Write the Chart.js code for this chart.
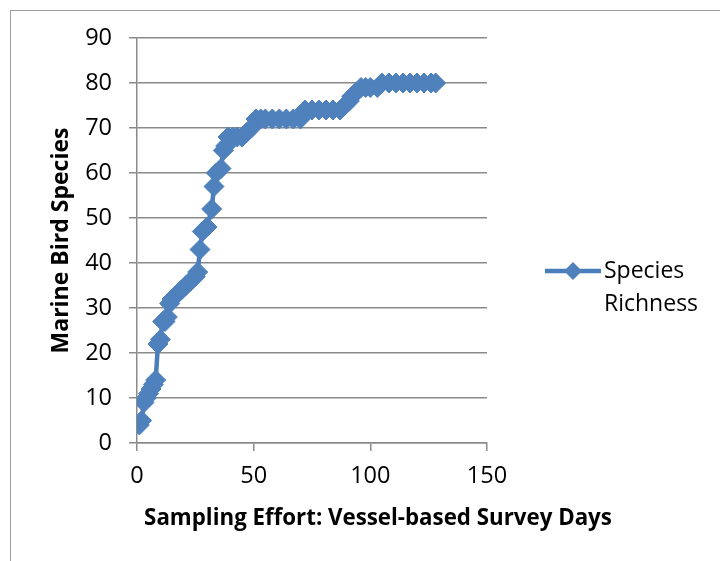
<!DOCTYPE html>
<html>
<head>
<meta charset="utf-8">
<script src="https://cdn.jsdelivr.net/npm/chart.js@4/dist/chart.umd.min.js"></script>
<style>
  html, body { margin: 0; padding: 0; background: #fff; overflow: hidden; }
  #wrap { position: relative; width: 720px; height: 561px; }
  #frame { position: absolute; left: 10px; top: 10px; width: 900px; height: 900px;
           border: 1px solid #a0a0a0; box-sizing: border-box; }
  canvas { position: absolute; left: 0; top: 0; }
</style>
</head>
<body>
<div id="wrap">
  <div id="frame"></div>
  <canvas id="chart" width="720" height="561"></canvas>
</div>
<script>
// Cumulative marine bird species recorded against vessel-based survey days
const surveyDays = [
  1, 2, 3, 4, 5, 6, 7, 8, 9, 10, 11, 12, 13, 14, 15, 17, 19, 21, 23, 25, 26,
  27, 28, 30, 32, 33, 34, 36, 37, 38, 39, 41, 43, 45, 47, 49, 51, 53, 55, 58,
  61, 64, 67, 70, 72, 75, 78, 81, 84, 87, 89, 91, 92, 94, 96, 98, 100, 103,
  105, 108, 111, 114, 117, 120, 123, 126, 128
];
const speciesCount = [
  4, 5, 9, 10, 11, 12, 13, 14, 22, 23, 27, 27, 28, 31, 32, 33, 34, 35, 36, 37, 38,
  43, 47, 48, 52, 57, 60, 61, 65, 66, 68, 68, 68, 68, 69, 70, 72, 72, 72, 72,
  72, 72, 72, 72, 74, 74, 74, 74, 74, 74, 75, 76, 77, 78, 79, 79, 79, 79,
  80, 80, 80, 80, 80, 80, 80, 80, 80
];
const seriesName = 'Species Richness';
const xAxisTitle = 'Sampling Effort: Vessel-based Survey Days';
const yAxisTitle = 'Marine Bird Species';
const xTickValues = [0, 50, 100, 150];
const yTickValues = [0, 10, 20, 30, 40, 50, 60, 70, 80, 90];

const lineBlue = '#4a7ebb';
const markerBlue = '#4f81bd';
const gridGray = '#8a8a8a';
const FONT = '"Open Sans", sans-serif';
const TICK_SIZE = 23.5;
const LEGEND_SIZE = 23;

// Legend at the right (line + diamond marker, two-line label)
// and the horizontal axis title, which spans wider than the plot.
const chartText = {
  id: 'chartText',
  afterDraw(chart) {
    const ctx = chart.ctx;
    const ds = chart.data.datasets[0];
    const cy = 271, x0 = 545, x1 = 601, cx = 573, r = 9;
    ctx.save();
    ctx.strokeStyle = ds.borderColor;
    ctx.lineWidth = ds.borderWidth;
    ctx.beginPath();
    ctx.moveTo(x0, cy);
    ctx.lineTo(x1, cy);
    ctx.stroke();
    ctx.fillStyle = ds.pointBackgroundColor;
    ctx.beginPath();
    ctx.moveTo(cx - r, cy);
    ctx.lineTo(cx, cy - r);
    ctx.lineTo(cx + r, cy);
    ctx.lineTo(cx, cy + r);
    ctx.closePath();
    ctx.fill();
    ctx.fillStyle = '#000';
    ctx.font = LEGEND_SIZE + 'px ' + FONT;
    ctx.textBaseline = 'middle';
    ctx.textAlign = 'left';
    ds.label.split(' ').forEach((w, i) => ctx.fillText(w, 604, cy + i * 33));

    ctx.font = 'bold 22.3px ' + FONT;
    ctx.textAlign = 'center';
    ctx.fillText(xAxisTitle, 378, 519);
    ctx.restore();
  }
};

new Chart(document.getElementById('chart'), {
  type: 'scatter',
  data: {
    datasets: [{
      label: seriesName,
      data: surveyDays.map((d, i) => ({ x: d, y: speciesCount[i] })),
      showLine: true,
      borderColor: lineBlue,
      borderWidth: 4.5,
      pointStyle: 'rectRot',
      pointRadius: 10,
      pointBorderWidth: 1,
      pointBackgroundColor: markerBlue,
      pointBorderColor: markerBlue,
      tension: 0
    }]
  },
  options: {
    responsive: false,
    animation: false,
    layout: { padding: { top: 38, right: 233, left: 0, bottom: 0 } },
    plugins: {
      legend: { display: false },
      tooltip: { enabled: false }
    },
    scales: {
      x: {
        type: 'linear',
        min: 0,
        max: 150,
        afterBuildTicks: (s) => { s.ticks = xTickValues.map(v => ({ value: v })); },
        afterFit: (s) => { s.height = 118; },
        grid: { drawOnChartArea: false, drawTicks: true, tickLength: 8, tickColor: gridGray, lineWidth: 1.5 },
        border: { color: gridGray, width: 1.5 },
        ticks: { color: '#000', padding: 11.5, font: { family: FONT, size: TICK_SIZE } },
        title: { display: false }
      },
      y: {
        type: 'linear',
        min: 0,
        max: 90,
        afterBuildTicks: (s) => { s.ticks = yTickValues.map(v => ({ value: v })); },
        afterFit: (s) => { s.width = 137; },
        grid: { color: gridGray, lineWidth: 1.5, drawTicks: true, tickLength: 8, tickColor: gridGray },
        border: { color: gridGray, width: 1.5 },
        ticks: { color: '#000', padding: 17, font: { family: FONT, size: TICK_SIZE } },
        title: {
          display: true, text: yAxisTitle, color: '#000',
          font: { family: FONT, size: 23, weight: 'bold' },
          padding: { top: 48, bottom: 0 }
        }
      }
    }
  },
  plugins: [chartText]
});
</script>
</body>
</html>
